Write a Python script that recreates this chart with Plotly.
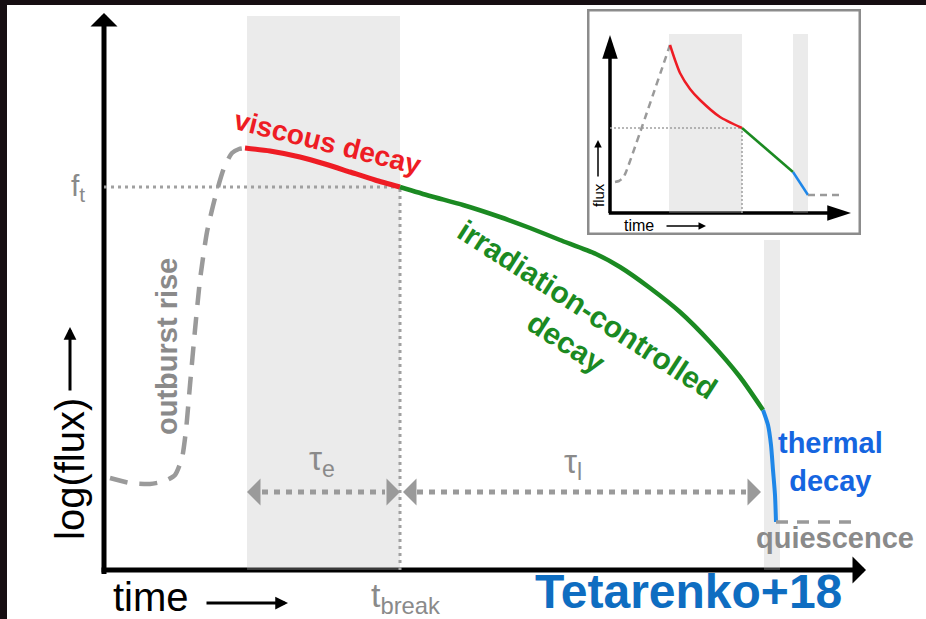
import plotly.graph_objects as go

# ---------------- main panel: schematic light curve ----------------
# time (arbitrary units) and log(flux) (arbitrary units)
rise_t = [0.6, 2.6, 4.6, 6.1, 7.1, 7.8, 8.2, 8.6, 9.1, 9.6, 10.3, 11.1, 12.0, 12.8, 13.5, 14.1]
rise_f = [2.3, 2.175, 2.15, 2.225, 2.375, 2.8, 3.5, 4.625, 6.0, 7.25, 8.45, 9.3, 10.05, 10.425, 10.525, 10.55]
visc_t = [14.1, 16.6, 19.6, 22.1, 24.6, 27.1, 29.6]
visc_f = [10.55, 10.475, 10.325, 10.15, 9.95, 9.75, 9.575]
irr_t = [29.6, 32.6, 35.9, 39.6, 42.6, 45.6, 49.2, 51.6, 54.6, 57.6, 60.6, 63.6, 65.9]
irr_f = [9.575, 9.35, 9.125, 8.825, 8.55, 8.25, 7.9, 7.575, 7.05, 6.45, 5.7, 4.825, 4.0]
therm_t = [65.9, 66.4, 66.7, 66.9, 67.1, 67.2]
therm_f = [4.0, 3.625, 3.125, 2.5, 1.875, 1.2]
quies_t = [67.2, 75.6]
quies_f = [1.2, 1.2]

t_break = 29.6
f_t = 9.575
visc_band = [14.3, 29.6]
therm_band = [66.0, 67.6]
band_top = 13.85
therm_band_top = 8.25
tau_level = 1.95
tau_l_end = 65.9
x_tip, y_tip = 76.2, 13.925

# ---------------- inset: linear flux ----------------
in_rise_t = [1.25, 2.25, 3.25, 4.0, 15.0]
in_rise_f = [7.75, 8.0, 8.75, 10.25, 42.0]
in_visc_t = [15.0, 16.25, 17.5, 20.0, 22.5, 27.5, 33.0]
in_visc_f = [42.0, 38.25, 35.0, 31.0, 28.25, 24.0, 21.25]
in_irr_t = [33.0, 45.75]
in_irr_f = [21.25, 10.25]
in_therm_t = [45.75, 49.5]
in_therm_f = [10.25, 4.5]
in_quies_t = [49.5, 57.75]
in_quies_f = [4.5, 4.5]
in_t_break = 33.0
in_f_t = 21.25
in_visc_band = [14.75, 33.0]
in_therm_band = [45.75, 49.5]
in_band_top = 44.75
in_x_tip, in_y_tip = 60.25, 44.5

RED = "#ee1c24"
GREEN = "#1b8a22"
BLUE = "#1f87e8"
GRAY = "#8a8a8a"
DASHGRAY = "#9a9a9a"
BAND = "rgba(190,190,190,0.30)"
FONT = "Liberation Sans, Arial, sans-serif"

fig = go.Figure()


def line(x, y, color, width, dash="solid", ax="x", ay="y"):
    fig.add_trace(go.Scatter(x=x, y=y, mode="lines", xaxis=ax, yaxis=ay,
                             line=dict(color=color, width=width, dash=dash, shape="spline", smoothing=0.6),
                             hoverinfo="skip", showlegend=False))


def band(x0, x1, top, ax="x", ay="y"):
    fig.add_trace(go.Scatter(x=[x0, x1, x1, x0, x0], y=[0, 0, top, top, 0], mode="lines",
                             fill="toself", fillcolor=BAND, line=dict(width=0),
                             xaxis=ax, yaxis=ay, hoverinfo="skip", showlegend=False))


def heads(x, y, angles, color, size, ax="x", ay="y"):
    # arrow-shaped markers with their tip on the given point
    fig.add_trace(go.Scatter(x=x, y=y, mode="markers", xaxis=ax, yaxis=ay,
                             marker=dict(symbol="arrow", size=size, angle=angles, color=color,
                                         line=dict(width=0)),
                             hoverinfo="skip", showlegend=False))


# main axes
line([0, 0], [-0.1, y_tip - 0.3], "black", 5)
line([-0.25, x_tip - 1.2], [0, 0], "black", 5)
# shaded regimes
band(visc_band[0], visc_band[1], band_top)
band(therm_band[0], therm_band[1], therm_band_top)
# guides at the break
line([0, t_break], [f_t, f_t], "#a0a0a0", 3, "3px,4px")
line([t_break, t_break], [0, f_t], "#a0a0a0", 3, "3px,4px")
# timescale arrows (shafts)
line([visc_band[0] + 1.5, t_break - 1.5], [tau_level, tau_level], DASHGRAY, 5, "6px,6px")
line([t_break + 1.7, tau_l_end - 1.7], [tau_level, tau_level], DASHGRAY, 5, "6px,6px")
# light curve
line(rise_t, rise_f, DASHGRAY, 4.5, "18px,12px")
line(visc_t, visc_f, RED, 5)
line(irr_t, irr_f, GREEN, 4.5)
line(therm_t, therm_f, BLUE, 4)
line(quies_t, quies_f, DASHGRAY, 3.5, "12px,9px")

# inset
line([0, 0], [0, in_y_tip - 1.5], "black", 3.5, ax="x2", ay="y2")
line([-0.3, in_x_tip - 1.5], [0, 0], "black", 3.5, ax="x2", ay="y2")
band(in_visc_band[0], in_visc_band[1], in_band_top, "x2", "y2")
band(in_therm_band[0], in_therm_band[1], in_band_top, "x2", "y2")
line([0, in_t_break], [in_f_t, in_f_t], "#a0a0a0", 1.5, "2px,2px", "x2", "y2")
line([in_t_break, in_t_break], [0, in_f_t], "#a0a0a0", 1.5, "2px,2px", "x2", "y2")
line(in_rise_t, in_rise_f, DASHGRAY, 2.5, "7px,5px", "x2", "y2")
line(in_visc_t, in_visc_f, RED, 2.5, ax="x2", ay="y2")
line(in_irr_t, in_irr_f, GREEN, 2.5, ax="x2", ay="y2")
line(in_therm_t, in_therm_f, BLUE, 2.5, ax="x2", ay="y2")
line(in_quies_t, in_quies_f, DASHGRAY, 2.5, "7px,5px", "x2", "y2")
heads([0, in_x_tip], [in_y_tip, 0], [0, 90], "black", 25, "x2", "y2")

ann = []


def label(x, y, text, size, color, angle=0, xr="x", yr="y", xanchor="center", yanchor="middle"):
    ann.append(dict(x=x, y=y, xref=xr, yref=yr, text=text, showarrow=False, textangle=angle,
                    align="center", font=dict(family=FONT, size=size, color=color),
                    xanchor=xanchor, yanchor=yanchor, borderpad=0))


def pointer(tail, tip, width, size, color="black", style=2, xr="x", yr="y"):
    # arrow from tail to tip
    ann.append(dict(x=tip[0], y=tip[1], ax=tail[0], ay=tail[1], xref=xr, yref=yr,
                    axref=xr, ayref=yr, text="", showarrow=True, arrowhead=style,
                    arrowwidth=width, arrowsize=size, arrowcolor=color))


# axis heads
pointer((0, y_tip - 0.3), (0, y_tip), 5, 0.9, style=1)
pointer((x_tip - 1.2, 0), (x_tip, 0), 5, 0.9, style=1)
# timescale heads
pointer((visc_band[0] + 1.2, tau_level), (visc_band[0], tau_level), 1, 4.5, DASHGRAY, 1)
pointer((t_break - 1.2, tau_level), (t_break, tau_level), 1, 4.5, DASHGRAY, 1)
pointer((t_break + 1.5, tau_level), (t_break + 0.3, tau_level), 1, 4.5, DASHGRAY, 1)
pointer((tau_l_end - 1.4, tau_level), (tau_l_end - 0.2, tau_level), 1, 4.5, DASHGRAY, 1)

label(-2.6, f_t, "f<sub>t</sub>", 30, GRAY)
label(22.4, 10.7, "<b>viscous decay</b>", 28, RED, 14)
label(47.3, 6.1, "<b>irradiation-controlled<br>decay</b>", 30, GREEN, 33)
label(6.3, 5.575, "<b>outburst rise</b>", 29, GRAY, -90)
label(-3.4, 2.525, "log(flux)", 40, "black", -90)
pointer((-3.4, 4.45), (-3.4, 6.075), 3, 0.85)
label(4.7, -0.675, "time", 40, "black")
pointer((10.1, -0.825), (18.4, -0.825), 3, 0.85)
label(30.1, -0.675, "t<sub>break</sub>", 34, GRAY)
label(21.8, 2.72, "τ<sub>e</sub>", 33, GRAY)
label(46.9, 2.65, "τ<sub>l</sub>", 33, GRAY)
label(72.6, 2.7, "<b>thermal<br>decay</b>", 29, "#1565e0")
label(73.1, 0.8, "<b>quiescence</b>", 29, GRAY)
label(58.4, -1.225, "<b>Tetarenko+18</b>", 48, "#0e6dc1", yanchor="bottom")
label(3.25, -3.0, "time", 16, "black", xr="x2", yr="y2", xanchor="left")
pointer((13.75, -3.25), (24.0, -3.25), 1.5, 1.0, xr="x2", yr="y2")
label(-3.0, 4.5, "flux", 15, "black", -90, "x2", "y2")
pointer((-3.0, 8.75), (-3.0, 18.25), 1.5, 1.0, xr="x2", yr="y2")

shapes = [
    # white canvas inside the dark frame
    dict(type="rect", xref="paper", yref="paper", x0=7 / 926, x1=1, y0=0, y1=1 - 5 / 619,
         fillcolor="white", line=dict(width=0), layer="below"),
    # inset frame
    dict(type="rect", xref="x2", yref="y2", x0=-5.75, x1=62.75, y0=-5.5, y1=51,
         fillcolor="white", line=dict(color="#8c8c8c", width=5), layer="below"),
]

hidden = dict(visible=False, fixedrange=True)
fig.update_layout(
    width=926, height=619, margin=dict(l=0, r=0, t=0, b=0),
    paper_bgcolor="#160e12", plot_bgcolor="rgba(0,0,0,0)",
    xaxis=dict(range=[-10.4, 82.2], domain=[0, 1], **hidden),
    yaxis=dict(range=[-1.225, 14.25], domain=[0, 1], **hidden),
    xaxis2=dict(range=[-5.75, 62.75], domain=[587 / 926, 861 / 926], anchor="y2", **hidden),
    yaxis2=dict(range=[-5.5, 51], domain=[1 - 235 / 619, 1 - 9 / 619], anchor="x2", **hidden),
    annotations=ann, shapes=shapes, showlegend=False,
)

fig.write_html("out.html")
